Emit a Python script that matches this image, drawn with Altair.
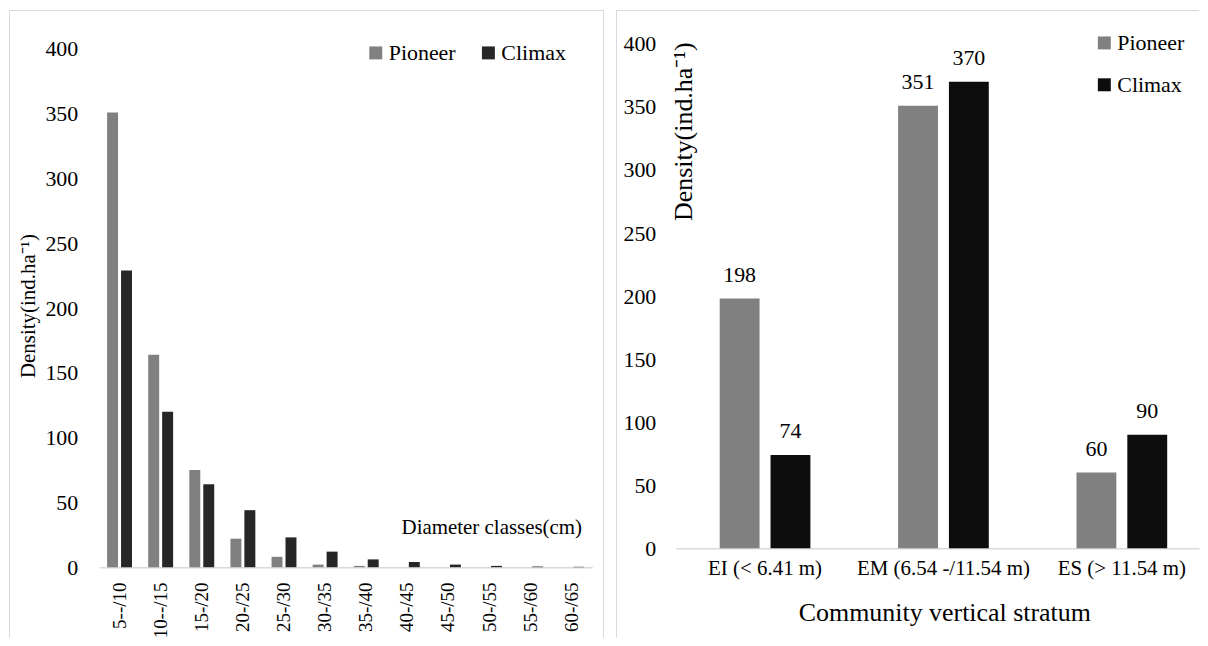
import altair as alt
import pandas as pd

# ---------------- data ----------------
classes = ["5--/10", "10--/15", "15-/20", "20-/25", "25-/30", "30-/35",
           "35-/40", "40-/45", "45-/50", "50-/55", "55-/60", "60-/65"]
pioneer_diam = [351, 164, 75, 22, 8, 2, 1, 0, 0, 0, 0, 0]
climax_diam = [229, 120, 64, 44, 23, 12, 6, 4, 2, 1, 0.5, 0.3]

strata = ["EI (< 6.41 m)", "EM (6.54 -/11.54 m)", "ES (> 11.54 m)"]
pioneer_strat = [198, 351, 60]
climax_strat = [74, 370, 90]

groups = ["Pioneer", "Climax"]
y_ticks = [0, 50, 100, 150, 200, 250, 300, 350, 400]

FONT = "Liberation Serif"
TXT = "#000000"
GRID = "#d9d9d9"

df1 = pd.DataFrame(
    [{"Class": c, "Group": "Pioneer", "Density": v} for c, v in zip(classes, pioneer_diam)]
    + [{"Class": c, "Group": "Climax", "Density": v} for c, v in zip(classes, climax_diam)]
)
df2 = pd.DataFrame(
    [{"Stratum": s, "Group": "Pioneer", "Density": v} for s, v in zip(strata, pioneer_strat)]
    + [{"Stratum": s, "Group": "Climax", "Density": v} for s, v in zip(strata, climax_strat)]
)

PW1, PW2, PH = 597, 585, 630
one = pd.DataFrame({"k": [0]})


def border(x, y, x2=None, y2=None):
    enc = {"x": alt.value(x), "y": alt.value(y)}
    if x2 is not None:
        enc["x2"] = alt.value(x2)
    if y2 is not None:
        enc["y2"] = alt.value(y2)
    return alt.Chart(one).mark_rule(color=GRID, strokeWidth=1).encode(**enc)


# ---------------- left panel ----------------
bars1 = alt.Chart(df1).mark_bar().encode(
    x=alt.X("Class:N", sort=classes,
            scale=alt.Scale(domain=classes, range=[90.3, 585.3],
                            paddingInner=0.394, paddingOuter=0.197),
            axis=alt.Axis(title=None, orient="bottom", offset=-(PH - 559),
                          labelAngle=270, labelPadding=15, ticks=False,
                          domainColor=GRID, domainWidth=1.5, grid=False,
                          labelFont=FONT, labelFontSize=19, labelColor=TXT)),
    xOffset=alt.XOffset("Group:N", sort=groups,
                        scale=alt.Scale(domain=groups, paddingInner=0.214, paddingOuter=0)),
    y=alt.Y("Density:Q",
            scale=alt.Scale(domain=[0, 400], range=[559, 39], nice=False),
            axis=alt.Axis(title=None, values=y_ticks, offset=-72, labelPadding=3,
                          ticks=False, domain=False, grid=False,
                          labelFont=FONT, labelFontSize=22, labelColor=TXT)),
    color=alt.Color("Group:N", sort=groups,
                    scale=alt.Scale(domain=groups, range=["#808080", "#262626"]),
                    legend=alt.Legend(title=None, orient="none", direction="horizontal",
                                      legendX=357, legendY=32, symbolType="square",
                                      symbolSize=169, symbolStrokeWidth=0,
                                      labelFont=FONT, labelFontSize=22, labelColor=TXT,
                                      labelOffset=2, columnPadding=21, padding=0)),
)

ytitle1 = alt.Chart(pd.DataFrame({"t": ["Density(ind.ha⁻¹)"]})).mark_text(
    font=FONT, fontSize=21, color=TXT, angle=270, align="center", baseline="middle"
).encode(text="t:N", x=alt.value(20), y=alt.value(297))

xtitle1 = alt.Chart(pd.DataFrame({"t": ["Diameter classes(cm)"]})).mark_text(
    font=FONT, fontSize=21, color=TXT, align="right", baseline="middle"
).encode(text="t:N", x=alt.value(575), y=alt.value(520))

left = alt.layer(
    border(0.5, 0, y2=PH), border(0, 0.5, x2=PW1), border(PW1 - 0.5, 0, y2=PH),
    bars1, ytitle1, xtitle1,
).properties(width=PW1, height=PH)

# ---------------- right panel ----------------
x2 = alt.X("Stratum:N", sort=strata,
           scale=alt.Scale(domain=strata, range=[60, 585],
                           paddingInner=0.4916, paddingOuter=0.2123, align=0.58),
           axis=alt.Axis(title=None, orient="bottom", offset=-(PH - 540),
                         labelAngle=0, labelPadding=9, ticks=False,
                         domainColor=GRID, domainWidth=1.5, grid=False,
                         labelFont=FONT, labelFontSize=21, labelColor=TXT))
xo2 = alt.XOffset("Group:N", sort=groups,
                  scale=alt.Scale(domain=groups, paddingInner=0.2157, paddingOuter=0))
y2 = alt.Y("Density:Q",
           scale=alt.Scale(domain=[0, 400], range=[540, 34], nice=False),
           axis=alt.Axis(title=None, values=y_ticks, offset=-43, labelPadding=3,
                         ticks=False, domain=False, grid=False,
                         labelFont=FONT, labelFontSize=22, labelColor=TXT))

bars2 = alt.Chart(df2).mark_bar().encode(
    x=x2, xOffset=xo2, y=y2,
    color=alt.Color("Group:N", sort=groups,
                    scale=alt.Scale(domain=groups, range=["#808080", "#0d0d0d"]),
                    legend=alt.Legend(title=None, orient="none", direction="vertical",
                                      legendX=479, legendY=22, symbolType="square",
                                      symbolSize=169, symbolStrokeWidth=0,
                                      labelFont=FONT, labelFontSize=22, labelColor=TXT,
                                      labelOffset=2, rowPadding=20, padding=0)),
)

labels2 = alt.Chart(df2).mark_text(
    font=FONT, fontSize=22, color=TXT, baseline="middle", dy=-24
).encode(x=x2, xOffset=xo2, y=y2, text=alt.Text("Density:Q"))

ytitle2 = alt.Chart(pd.DataFrame({"t": ["Density(ind.ha⁻¹)"]})).mark_text(
    font=FONT, fontSize=26, color=TXT, angle=270, align="center", baseline="middle"
).encode(text="t:N", x=alt.value(68), y=alt.value(122))

xtitle2 = alt.Chart(pd.DataFrame({"t": ["Community vertical stratum"]})).mark_text(
    font=FONT, fontSize=26, color=TXT, align="center", baseline="middle"
).encode(text="t:N", x=alt.value(330), y=alt.value(605))

right = alt.layer(
    border(0.5, 0, y2=PH), border(0, 0.5, x2=PW2),
    bars2, labels2, ytitle2, xtitle2,
).properties(width=PW2, height=PH)

chart = (
    alt.hconcat(left, right, spacing=10)
    .resolve_scale(x="independent", y="independent", color="independent", xOffset="independent")
    .resolve_legend(color="independent")
    .properties(padding=0, background="white")
    .configure(font=FONT)
    .configure_axis(labelFont=FONT, titleFont=FONT)
    .configure_legend(labelFont=FONT, titleFont=FONT)
    .configure_text(font=FONT)
    .configure_view(strokeWidth=0, strokeOpacity=0)
)

chart.save("out.html", embed_options={"renderer": "svg", "actions": False})
